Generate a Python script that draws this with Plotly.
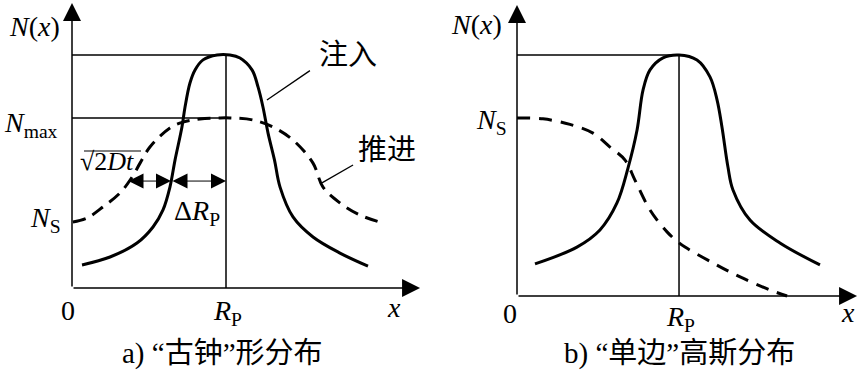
import plotly.graph_objects as go

# ---------------- data (normalised units: x / Rp, y / peak) ----------------
# panel a: "bell" shaped distribution
A_SOLID_X = [0.065, 0.247, 0.422, 0.526, 0.591, 0.636, 0.669, 0.714, 0.734, 0.766,
             0.799, 0.851, 0.942, 1.026, 1.091, 1.169, 1.208, 1.240, 1.273, 1.315,
             1.351, 1.435, 1.565, 1.740, 1.922]
A_SOLID_Y = [0.099, 0.133, 0.193, 0.262, 0.335, 0.433, 0.549, 0.691, 0.777, 0.880,
             0.936, 0.979, 1.000, 1.000, 0.987, 0.936, 0.863, 0.777, 0.665, 0.549,
             0.433, 0.305, 0.219, 0.150, 0.094]
A_DASH_X = [0.006, 0.097, 0.201, 0.312, 0.390, 0.442, 0.506, 0.636, 0.721, 0.831,
            0.961, 1.026, 1.175, 1.305, 1.435, 1.565, 1.630, 1.740, 1.870, 2.019]
A_DASH_Y = [0.283, 0.300, 0.348, 0.408, 0.476, 0.536, 0.605, 0.687, 0.712, 0.725,
            0.730, 0.730, 0.721, 0.691, 0.635, 0.536, 0.433, 0.365, 0.313, 0.279]
A_RP = 1.0
A_PEAK = 1.0
A_NMAX = 0.730
A_NS = 0.283
A_DIM_Y = 0.459          # level of the sqrt(2Dt) / dRp dimension line
A_DIM_X = [0.357, 0.643, 1.0]

# panel b: one-sided gaussian
B_SOLID_X = [0.111, 0.370, 0.512, 0.617, 0.685, 0.741, 0.778, 0.821, 0.901, 1.000,
             1.111, 1.191, 1.235, 1.265, 1.302, 1.333, 1.438, 1.623, 1.870]
B_SOLID_Y = [0.133, 0.203, 0.274, 0.386, 0.531, 0.689, 0.855, 0.938, 0.988, 1.000,
             0.979, 0.909, 0.813, 0.701, 0.535, 0.440, 0.315, 0.220, 0.129]
B_DASH_X = [0.000, 0.160, 0.327, 0.469, 0.574, 0.667, 0.728, 0.821, 0.926, 0.994,
            1.037, 1.210, 1.377, 1.562, 1.667]
B_DASH_Y = [0.739, 0.735, 0.712, 0.676, 0.618, 0.564, 0.481, 0.357, 0.266, 0.224,
            0.203, 0.137, 0.079, 0.025, 0.000]
B_RP = 1.0
B_PEAK = 1.0

W, H = 860, 375
SERIF = "Liberation Serif, Times New Roman, serif"
CJK = "Liberation Serif, Noto Sans CJK SC, serif"
FS = 28
FS_CJK = 29


def P(xp, yp):
    return xp / W, 1 - yp / H


fig = go.Figure()


def line(x, y, xa, ya, width=1.5, dash=None, shape="linear"):
    fig.add_trace(go.Scatter(x=x, y=y, mode="lines", xaxis=xa, yaxis=ya,
                             line=dict(color="black", width=width, dash=dash,
                                       shape=shape, smoothing=1.0),
                             hoverinfo="skip", showlegend=False))


# panel a
line([0, A_RP], [A_PEAK, A_PEAK], "x", "y")
line([0, A_RP], [A_NMAX, A_NMAX], "x", "y")
line([A_RP, A_RP], [0, A_PEAK], "x", "y")
line(A_SOLID_X, A_SOLID_Y, "x", "y", width=3, shape="spline")
line(A_DASH_X, A_DASH_Y, "x", "y", width=3, dash="13px,8px", shape="spline")
line([1.266, 1.545], [0.807, 0.933], "x", "y", width=1.3)
line([1.623, 1.825], [0.451, 0.528], "x", "y", width=1.3)

# panel b
line([0, B_RP], [B_PEAK, B_PEAK], "x2", "y2")
line([B_RP, B_RP], [0, B_PEAK], "x2", "y2")
line(B_SOLID_X, B_SOLID_Y, "x2", "y2", width=3, shape="spline")
line(B_DASH_X, B_DASH_Y, "x2", "y2", width=3, dash="13px,9px", shape="spline")

ann = []


def arrow(x0, y0, x1, y1, xr, yr, both=False, width=1.5, size=1.5, head=2):
    ann.append(dict(x=x1, y=y1, ax=x0, ay=y0, xref=xr, yref=yr, axref=xr, ayref=yr,
                    text="", showarrow=True, arrowhead=head, arrowsize=size,
                    arrowwidth=width, arrowcolor="black",
                    arrowside="end+start" if both else "end", startarrowhead=head,
                    startarrowsize=size))


# axes with arrows
arrow(0, 0, 0, 1.223, "x", "y", size=2.4, width=1.5, head=2)
arrow(0, 0, 2.26, 0, "x", "y", size=2.4, width=1.5, head=2)
arrow(0, 0, 0, 1.207, "x2", "y2", size=2.4, width=1.5, head=2)
arrow(0, 0, 2.099, 0, "x2", "y2", size=2.4, width=1.5, head=2)
# dimension arrows
arrow(A_DIM_X[0], A_DIM_Y, A_DIM_X[1], A_DIM_Y, "x", "y", both=True, width=1, size=3)
arrow(A_DIM_X[1], A_DIM_Y, A_DIM_X[2], A_DIM_Y, "x", "y", both=True, width=1, size=3)


def text(t, xp, yp, fam=SERIF, size=FS):
    x, y = P(xp, yp)
    ann.append(dict(x=x, y=y, xref="paper", yref="paper", text=t, showarrow=False,
                    xanchor="center", yanchor="middle",
                    font=dict(family=fam, size=size, color="black")))


text("<i>N</i>(<i>x</i>)", 34, 27)
text("<i>N</i><sub>max</sub>", 31, 124)
text("√2<i>Dt</i>", 107, 162, size=26)
text("<i>N</i><sub>S</sub>", 45, 219)
text("Δ<i>R</i><sub>P</sub>", 197, 212)
text("0", 68, 310)
text("<i>R</i><sub>P</sub>", 228, 312)
text("<i>x</i>", 394, 307)
text("注入", 348, 55, fam=CJK, size=FS_CJK)
text("推进", 387, 150, fam=CJK, size=FS_CJK)
text("a) “古钟”形分布", 222, 353, fam=CJK, size=FS_CJK)

text("<i>N</i>(<i>x</i>)", 476, 25)
text("<i>N</i><sub>S</sub>", 492, 122)
text("0", 510, 313)
text("<i>R</i><sub>P</sub>", 680, 318)
text("<i>x</i>", 848, 312)
text("b) “单边”高斯分布", 679, 353, fam=CJK, size=FS_CJK)

# overline of the square root
ox0, oy = P(84, 151)
ox1, _ = P(141, 151)
shapes = [dict(type="line", xref="paper", yref="paper", x0=ox0, x1=ox1, y0=oy, y1=oy,
               line=dict(color="black", width=1.2))]

ax_common = dict(visible=False, showgrid=False, zeroline=False, fixedrange=True)
fig.update_layout(
    width=W, height=H, margin=dict(l=0, r=0, t=0, b=0),
    paper_bgcolor="white", plot_bgcolor="white", showlegend=False,
    xaxis=dict(domain=[0, 0.5], range=[-0.4675, 2.3247], anchor="y", **ax_common),
    yaxis=dict(domain=[0, 1], range=[-0.3734, 1.2361], anchor="x", **ax_common),
    xaxis2=dict(domain=[0.5, 1], range=[-0.537, 2.117], anchor="y2", **ax_common),
    yaxis2=dict(domain=[0, 1], range=[-0.3278, 1.2282], anchor="x2", **ax_common),
    annotations=ann, shapes=shapes,
)

fig.write_html("out.html")
